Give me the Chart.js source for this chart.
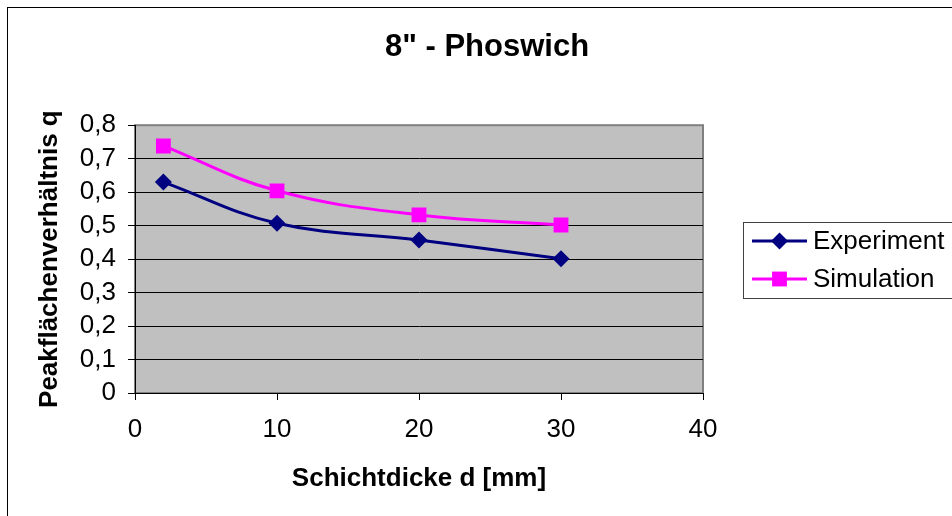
<!DOCTYPE html>
<html>
<head>
<meta charset="utf-8">
<script src="https://cdn.jsdelivr.net/npm/chart.js@4/dist/chart.umd.min.js"></script>
<style>
  html, body { margin: 0; padding: 0; background: #fff; overflow: hidden; }
</style>
</head>
<body>
<canvas id="myChart" width="952" height="516"></canvas>
<script>
// Data
const thickness = [2, 10, 20, 30];            // Schichtdicke d [mm]
const experiment = [0.63, 0.507, 0.457, 0.401];
const simulation = [0.738, 0.604, 0.532, 0.502];
const seriesNames = ["Experiment", "Simulation"];
const xTicks = [0, 10, 20, 30, 40];
const yTicks = [0, 0.1, 0.2, 0.3, 0.4, 0.5, 0.6, 0.7, 0.8];

Chart.defaults.font.family = "'Liberation Sans', Arial, sans-serif";
Chart.defaults.color = "#000";

const toPoints = ys => thickness.map((x, i) => ({ x: x, y: ys[i] }));

// grey plot area + outer frame, like the Excel original
const backdrop = {
    id: "backdrop",
    beforeDraw(chart) {
        const { ctx, chartArea: a } = chart;
        ctx.save();
        ctx.fillStyle = "#c0c0c0";
        ctx.fillRect(a.left, a.top, a.right - a.left, a.bottom - a.top);
        ctx.strokeStyle = "#808080";
        ctx.lineWidth = 2;
        ctx.strokeRect(a.left, a.top, a.right - a.left, a.bottom - a.top);
        ctx.restore();
    },
    afterDraw(chart) {
        const ctx = chart.ctx;
        ctx.save();
        ctx.strokeStyle = "#000";
        ctx.lineWidth = 1;
        ctx.strokeRect(7.5, 7.5, 2000, 2000);
        ctx.restore();
    }
};

// legend with line + marker, boxed, sitting right of the plot
const boxLegend = {
    id: "boxLegend",
    afterDraw(chart) {
        const ctx = chart.ctx;
        const left = chart.chartArea.right + 40;
        const top = 222;
        ctx.save();
        ctx.strokeStyle = "#404040";
        ctx.lineWidth = 1;
        ctx.strokeRect(left + 0.5, top + 0.5, 400, 76);
        chart.data.datasets.forEach((ds, i) => {
            const y = top + 19 + i * 38;
            const x0 = left + 9, x1 = left + 64, xm = (x0 + x1) / 2;
            ctx.strokeStyle = ds.borderColor;
            ctx.lineWidth = ds.borderWidth;
            ctx.beginPath();
            ctx.moveTo(x0, y);
            ctx.lineTo(x1, y);
            ctx.stroke();
            ctx.fillStyle = ds.backgroundColor;
            ctx.beginPath();
            if (ds.pointStyle === "rectRot") {
                const r = ds.pointRadius;
                ctx.moveTo(xm, y - r);
                ctx.lineTo(xm + r, y);
                ctx.lineTo(xm, y + r);
                ctx.lineTo(xm - r, y);
                ctx.closePath();
            } else {
                const s = ds.pointRadius * Math.SQRT1_2;
                ctx.rect(xm - s, y - s, 2 * s, 2 * s);
            }
            ctx.fill();
            ctx.fillStyle = "#000";
            ctx.font = "26px 'Liberation Sans', Arial, sans-serif";
            ctx.textBaseline = "middle";
            ctx.fillText(ds.label, left + 70, y + 1);
        });
        ctx.restore();
    }
};

const fmt = v => (Math.abs(v) < 1e-9 ? "0" : v.toFixed(1).replace(".", ","));

const config = {
    type: "line",
    data: {
        datasets: [{
            label: seriesNames[0],
            data: toPoints(experiment),
            borderColor: "#000080",
            backgroundColor: "#000080",
            borderWidth: 3,
            pointStyle: "rectRot",
            pointRadius: 8.5,
            pointBorderWidth: 0,
            tension: 0.4
        }, {
            label: seriesNames[1],
            data: toPoints(simulation),
            borderColor: "#ff00ff",
            backgroundColor: "#ff00ff",
            borderWidth: 3,
            pointStyle: "rect",
            pointRadius: 10.5,
            pointBorderWidth: 0,
            tension: 0.4
        }]
    },
    options: {
        responsive: false,
        animation: false,
        layout: { padding: { left: 22, right: 0, top: 0, bottom: 0 } },
        plugins: {
            legend: { display: false },
            tooltip: { enabled: false },
            title: {
                display: true,
                text: "8\" - Phoswich",
                font: { size: 31, weight: "bold" },
                padding: { top: 29, bottom: 59 }
            }
        },
        scales: {
            x: {
                type: "linear",
                min: 0,
                max: 40,
                afterBuildTicks: s => { s.ticks = xTicks.map(v => ({ value: v })); },
                afterFit: s => { s.height = 516 - 393; },
                grid: { drawOnChartArea: false, drawTicks: true, tickLength: 7, color: "#000" },
                border: { display: true, color: "#000", width: 1 },
                ticks: { font: { size: 26 }, padding: 14, maxRotation: 0, autoSkip: false },
                title: {
                    display: true,
                    text: "Schichtdicke d [mm]",
                    font: { size: 26, weight: "bold" },
                    padding: { top: 0, bottom: 22 }
                }
            },
            y: {
                min: 0,
                max: 0.8,
                afterBuildTicks: s => { s.ticks = yTicks.map(v => ({ value: v })); },
                afterFit: s => { s.width = 135 - 22; },
                grid: {
                    color: c => (c.tick && Math.abs(c.tick.value - 0.8) < 1e-9 ? "rgba(0,0,0,0)" : "#000"),
                    tickColor: "#000",
                    tickLength: 7,
                    lineWidth: 1
                },
                border: { display: true, color: "#000", width: 1 },
                ticks: { font: { size: 26 }, padding: 12, callback: fmt, autoSkip: false },
                title: {
                    display: true,
                    text: "Peakflächenverhältnis q",
                    font: { size: 26, weight: "bold" },
                    padding: { top: 12, bottom: 0 }
                }
            },
            spacer: {
                position: "right",
                display: true,
                grid: { display: false },
                border: { display: false },
                ticks: { display: false },
                afterFit: s => { s.width = 249; }
            }
        }
    },
    plugins: [backdrop, boxLegend]
};

const phoswichChart = new Chart(document.getElementById("myChart"), config);
</script>
</body>
</html>
